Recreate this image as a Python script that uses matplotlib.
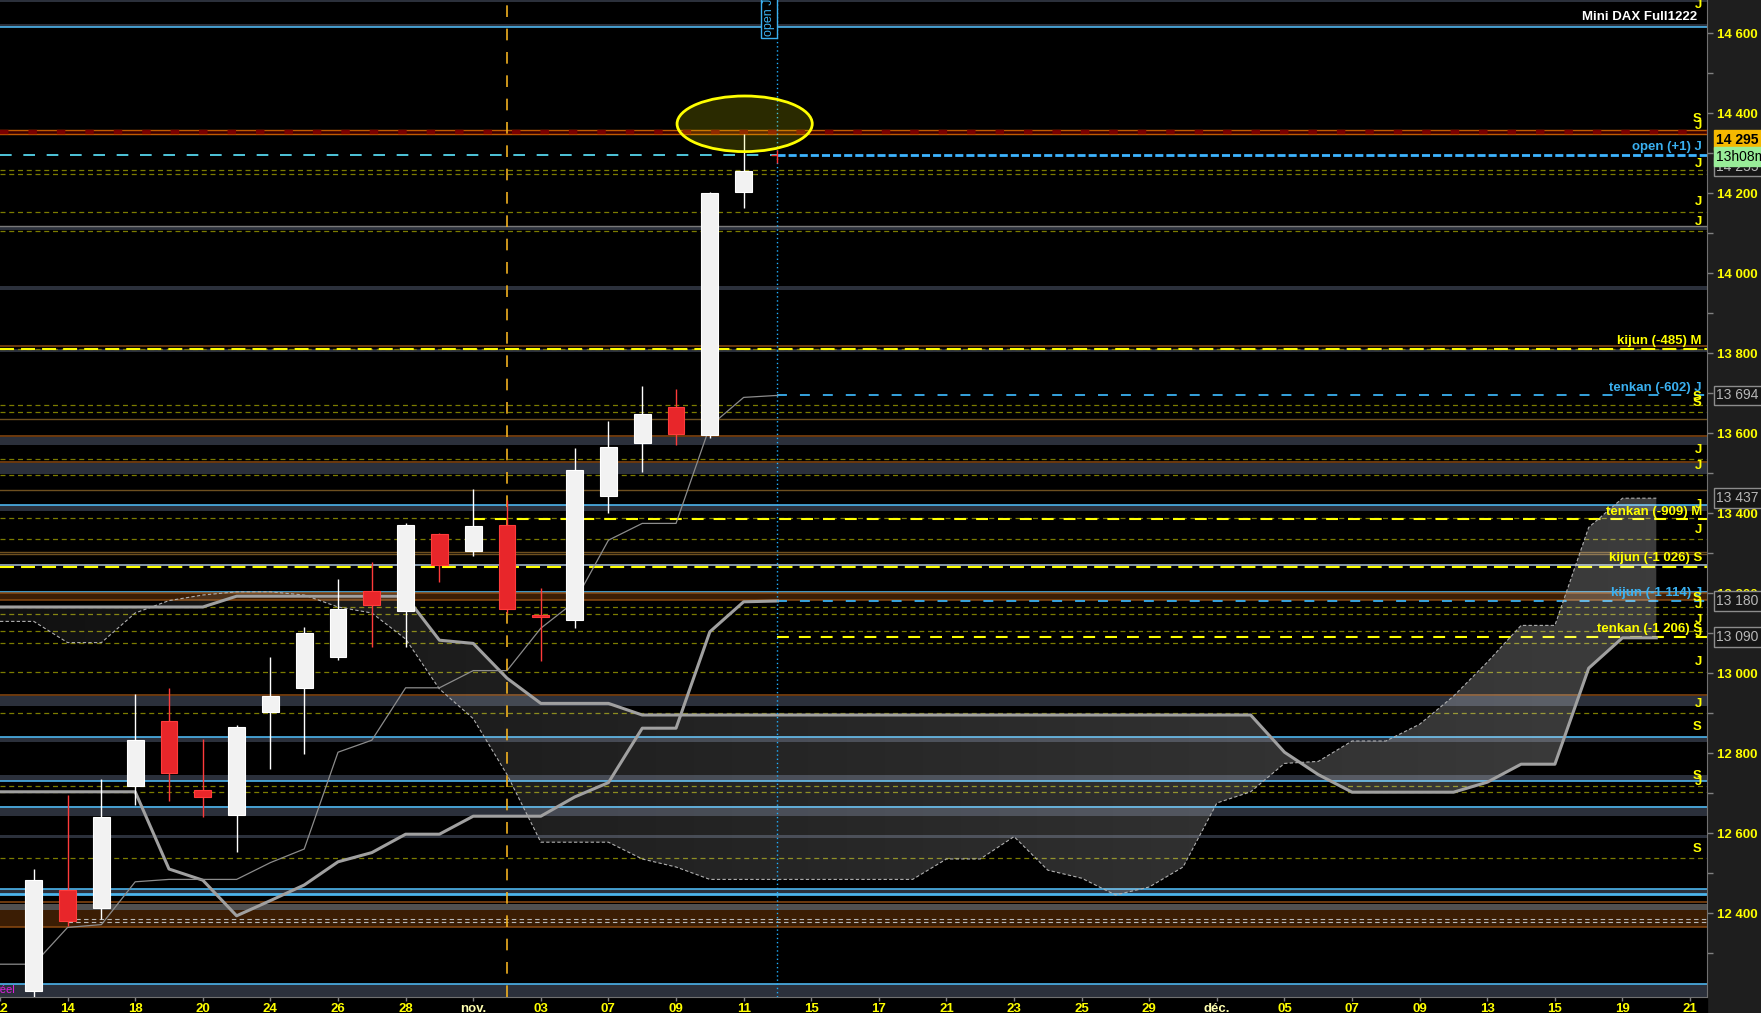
import numpy as np
import matplotlib.pyplot as plt
import matplotlib.transforms as mtransforms
from matplotlib.patches import Ellipse, Rectangle
from matplotlib.path import Path

plt.rcParams['font.family'] = ['Liberation Sans', 'DejaVu Sans']

# ---- data (x = trading day index, 0 = 12 Oct 2022) ----
candle_idx = list(range(1, 23))
opens  = [12205, 12458, 12412, 12717, 12879, 12707, 12646, 12902, 12963, 13039, 13204,
          13154, 13347, 13305, 13369, 13143, 13133, 13443, 13576, 13664, 13595, 14202]
highs  = [12510, 12694, 12736, 12947, 12963, 12835, 12870, 13040, 13115, 13235, 13278,
          13375, 13350, 13460, 13432, 13212, 13562, 13630, 13717, 13710, 14202, 14347]
lows   = [12170, 12368, 12386, 12669, 12681, 12639, 12553, 12759, 12798, 13033, 13066,
          13064, 13228, 13293, 13149, 13031, 13113, 13401, 13503, 13570, 13588, 14163]
closes = [12482, 12379, 12640, 12832, 12750, 12690, 12866, 12943, 13100, 13160, 13171,
          13370, 13270, 13367, 13161, 13141, 13507, 13565, 13647, 13597, 14200, 14255]

tenkan = [12272, 12272, 12364, 12371, 12478, 12484, 12484, 12484, 12526, 12560, 12802, 12832,
          12963, 12963, 13006, 13006, 13112, 13178, 13332, 13374, 13374, 13617, 13689, 13694]
kijun = [12703, 12703, 12703, 12703, 12703, 12510, 12482, 12393, 12431, 12470, 12528, 12551,
         12597, 12597, 12642, 12642, 12642, 12690, 12726, 12862, 12862, 13103, 13178, 13180]
ssa = ([13165] * 7 + [13192] * 6 + [13082, 13074, 12987] + [12924] * 3 + [12895] * 19
       + [12802, 12746] + [12702] * 4 + [12727, 12772, 12772, 13012, 13088, 13088])
ssb = [13129, 13129, 13076, 13076, 13150, 13181, 13195, 13203, 13203, 13195, 13165, 13150,
       13085, 12960, 12886, 12746, 12577, 12577, 12577, 12535, 12515, 12484, 12484, 12484,
       12484, 12484, 12484, 12484, 12535, 12535, 12591, 12507, 12487, 12445, 12465, 12515,
       12675, 12703, 12774, 12779, 12830, 12830, 12872, 12942, 13027, 13119, 13119, 13364,
       13437, 13437]

x_ticks = list(range(0, 51, 2))
x_labels = ['12', '14', '18', '20', '24', '26', '28', 'nov.', '03', '07', '09', '11', '15',
            '17', '21', '23', '25', '29', 'déc.', '05', '07', '09', '13', '15', '19', '21']

# horizontal levels
gray_bands = [(14677, 14683), (14616, 14622), (14107, 14118), (13957, 13967), (13802, 13811),
              (13570, 13591), (13497, 13526), (13406, 13420), (12918, 12943), (12828, 12839),
              (12730, 12745), (12643, 12667), (12588, 12595), (12446, 12459), (12190, 12222)]
brown_bands = [(13182, 13199), (12364, 12407)]
blue_levels = [14616, 13420, 13202, 12839, 12730, 12666, 12459, 12222]
brown_levels = [13818, 13592, 13527, 13199, 13182, 12945, 12427, 12364]
pale_brown_levels = [13634, 13457, 13302, 13297]
olive_levels = [14257, 14248, 14152, 14105, 13811, 13669, 13652, 13534, 13495, 13387, 13334,
                13164, 13147, 13105, 13074, 13003, 12899, 12717, 12702, 12537]

side_labels = [
    ('J', 14670, 'y'), ('S', 14386, 'y'), ('J', 14368, 'y'), ('open (+1) J', 14315, 'b'),
    ('J', 14272, 'y'), ('J', 14177, 'y'), ('J', 14127, 'y'), ('kijun (-485) M', 13831, 'y'),
    ('tenkan (-602) J', 13712, 'b'), ('S', 13691, 'y'), ('S', 13674, 'y'), ('J', 13557, 'y'),
    ('J', 13517, 'y'), ('J', 13420, 'y'), ('tenkan (-909) M', 13403, 'y'), ('J', 13357, 'y'),
    ('kijun (-1 026) S', 13287, 'y'), ('kijun (-1 114) J', 13199, 'b'), ('S', 13188, 'y'),
    ('J', 13170, 'y'), ('J', 13132, 'y'), ('tenkan (-1 206) S', 13109, 'y'), ('J', 13099, 'y'),
    ('J', 13028, 'y'), ('J', 12922, 'y'), ('S', 12864, 'y'), ('S', 12742, 'y'),
    ('J', 12728, 'y'), ('S', 12559, 'y'),
]
box_labels = [('14 255', 14266, 'dark'), ('14 295', 14332, 'last'), ('13h08m', 14291, 'time'),
              ('13 694', 13694, 'dark'), ('13 437', 13437, 'dark'), ('13 180', 13180, 'dark'),
              ('13 090', 13090, 'dark')]

YEL = '#ffff00'
BLUE = '#3ab0f0'

fig = plt.figure(figsize=(17.61, 10.13), dpi=100, facecolor='#1e1e1e')
ax = fig.add_axes([0, 16 / 1013, 1707 / 1761, 997 / 1013])
ax.set_facecolor('black')
fig.patches.append(Rectangle((0, 0), 1707 / 1761, 16 / 1013, transform=fig.transFigure,
                             color='black', zorder=-1))
trans = mtransforms.blended_transform_factory(ax.transAxes, ax.transData)

# bands and levels
for lo, hi in gray_bands:
    ax.axhspan(lo, hi, color='#2b303b', lw=0, zorder=1)
ax.axhspan(12407, 12422, color='#505050', lw=0, zorder=1)
for lo, hi in brown_bands:
    ax.axhspan(lo, hi, color='#3b1d04', lw=0, zorder=1)
ax.axhline(14118, color='#7a7a7a', lw=1, zorder=1.2)
for v in blue_levels:
    ax.axhline(v, color='#4cb4ec', lw=1.2, zorder=2)
ax.axhline(12447, color='#4cb4ec', lw=2, zorder=2)
ax.axhline(13271, color='#a8c0d8', lw=1.1, zorder=2)
for v in brown_levels:
    ax.axhline(v, color='#8b4a12', lw=1.1, zorder=2)
for v in pale_brown_levels:
    ax.axhline(v, color='#6e5020', lw=1, zorder=2)
for v in olive_levels:
    ax.axhline(v, color='#7c7c00', lw=0.9, ls=(0, (4, 3)), zorder=2)

# resistance band at the top
ax.axhspan(14348, 14356, color='#3a0000', lw=0, zorder=1.5)
ax.axhline(14357, color='#c05a00', lw=1, zorder=2)
ax.axhline(14347, color='#c05a00', lw=1, zorder=2)
ax.axhline(14352, color='#7a0000', lw=3.2, ls=(0, (1.9, 4.5)), zorder=2.1)

# white dashed pair near 12 380
ax.hlines([12384, 12378], 2, 50.5, color='#b8b8b8', lw=0.8, ls=(0, (4, 3)), zorder=2)

# reference levels
ax.axhline(13810, color=YEL, lw=1.5, ls=(0, (6.7, 3.4)), zorder=2.2)
ax.hlines(13384, 14, 50.5, color=YEL, lw=1.5, ls=(0, (5.7, 4.8)), zorder=2.2)
ax.axhline(13266, color=YEL, lw=1.5, ls=(0, (6.7, 3.4)), zorder=2.2)
ax.hlines(13089, 23, 50.5, color=YEL, lw=1.5, ls=(0, (5.7, 4.8)), zorder=2.2)
ax.hlines(13694, 23, 50.5, color=BLUE, lw=1.3, ls=(0, (5.5, 7.2)), zorder=2.2)
ax.hlines(13180, 23, 50.5, color=BLUE, lw=1.3, ls=(0, (5.5, 7.2)), zorder=2.2)
ax.hlines(14294, 0, 23, color='#5ce6ff', lw=1.2, ls=(0, (7, 7)), zorder=2.2)
ax.hlines(14294, 23, 50.5, color='#3db4ff', lw=2, ls=(0, (2.9, 1.1)), zorder=2.2)

# ichimoku cloud with gradient
cx = np.arange(len(ssa))
poly = ax.fill_between(cx, ssa, ssb, color='none', lw=0)
clip = Path.make_compound_path(*poly.get_paths())
grad = np.ones((1, 256, 4))
grad[0, :, 3] = np.linspace(0.07, 0.24, 256)
im = ax.imshow(grad, extent=[0, 49, 12190, 14682], aspect='auto', zorder=2.5,
               interpolation='bilinear')
im.set_clip_path(clip, transform=ax.transData)
ax.plot(cx, ssb, color='#b0b0b0', lw=0.8, ls=(0, (3, 2)), zorder=3)
ax.plot(cx, ssa, color='#a0a0a0', lw=2.2, zorder=3)
ax.plot(range(len(kijun)), kijun, color='#a0a0a0', lw=2.2, zorder=3)
ax.plot(range(len(tenkan)), tenkan, color='#8c8c8c', lw=0.9, zorder=3)

# vertical markers
ax.axvline(15, color='#f0b020', lw=1.2, ls=(0, (7, 7)), zorder=3.5)
ax.axvline(23, color='#20b0ff', lw=1, ls=(0, (1, 2)), zorder=3.5)

# candles
for i, o, h, l, c in zip(candle_idx, opens, highs, lows, closes):
    up = c >= o
    col = '#ffffff' if up else '#ff3b3b'
    ax.vlines(i, l, h, color=col, lw=1, zorder=4)
    body = max(abs(c - o), 4)
    ax.add_patch(Rectangle((i - 0.25, min(o, c)), 0.5, body,
                           facecolor='#f2f2f2' if up else '#e8262a',
                           edgecolor='#ffffff' if up else '#ff3b3b', lw=0.8, zorder=4.2))
ax.vlines(23, 14274, 14307, color='#ff3030', lw=1, zorder=4)
ax.hlines(14294, 22.8, 23, color='#ff3030', lw=1, zorder=4)

ax.add_patch(Ellipse((22.03, 14373), 4.0, 139, facecolor=(1, 1, 0, 0.17),
                     edgecolor=YEL, lw=2, zorder=4.1))

# texts inside chart
for txt, v, c in side_labels:
    ax.text(0.997, v, txt, transform=trans, ha='right', va='center', fontsize=9.5,
            fontweight='bold', color=YEL if c == 'y' else BLUE, zorder=6)
ax.text(0.994, 14640, 'Mini DAX Full1222', transform=trans, ha='right', va='center',
        fontsize=9.5, fontweight='bold', color='white', zorder=6)
ax.text(22.75, 14592, 'open J', rotation=90, ha='center', va='bottom', fontsize=9,
        color=BLUE, clip_on=True, zorder=6,
        bbox=dict(boxstyle='square,pad=0.15', facecolor='black', edgecolor=BLUE, lw=1))
ax.text(-0.12, 12207, 'réel', ha='left', va='center', fontsize=8, color='#e020e0',
        clip_on=True, zorder=6)

# value boxes on the price axis
box_styles = {
    'dark': dict(fc='#161616', ec='#8c8c8c', tc='#b8b8b8', fw='normal', fs=10),
    'last': dict(fc='#f5b800', ec='#f5b800', tc='black', fw='bold', fs=10),
    'time': dict(fc='#98ec98', ec='#98ec98', tc='black', fw='normal', fs=10),
}
for txt, v, kind in box_labels:
    s = box_styles[kind]
    ax.text(1.0055, v, txt, transform=trans, ha='left', va='center', fontsize=s['fs'],
            fontweight=s['fw'], color=s['tc'], clip_on=False, zorder=7,
            bbox=dict(boxstyle='square,pad=0.2', facecolor=s['fc'], edgecolor=s['ec'], lw=1))

# axes
ax.set_xlim(0, 50.5)
ax.set_ylim(12190, 14682.5)
ax.yaxis.tick_right()
ax.set_yticks(range(12400, 14601, 200))
ax.set_yticks(range(12300, 14600, 200), minor=True)
ax.set_yticklabels([f'{v:,}'.replace(',', ' ') for v in range(12400, 14601, 200)])
ax.tick_params(axis='y', which='both', colors='#808080', length=4, width=1, pad=3,
               labelcolor=YEL, labelsize=9.5)
ax.set_xticks(x_ticks)
ax.set_xticklabels(x_labels)
ax.tick_params(axis='x', colors='#808080', length=3, width=1, pad=1, labelcolor=YEL,
               labelsize=9.5)
for lab in ax.get_yticklabels() + ax.get_xticklabels():
    lab.set_fontweight('bold')
    if lab.get_text() in ('nov.', 'déc.'):
        lab.set_color('#ffffb0')
for s in ('left', 'top'):
    ax.spines[s].set_visible(False)
for s in ('right', 'bottom'):
    ax.spines[s].set_color('#707070')

fig.savefig('out.png', dpi=100, facecolor=fig.get_facecolor())
